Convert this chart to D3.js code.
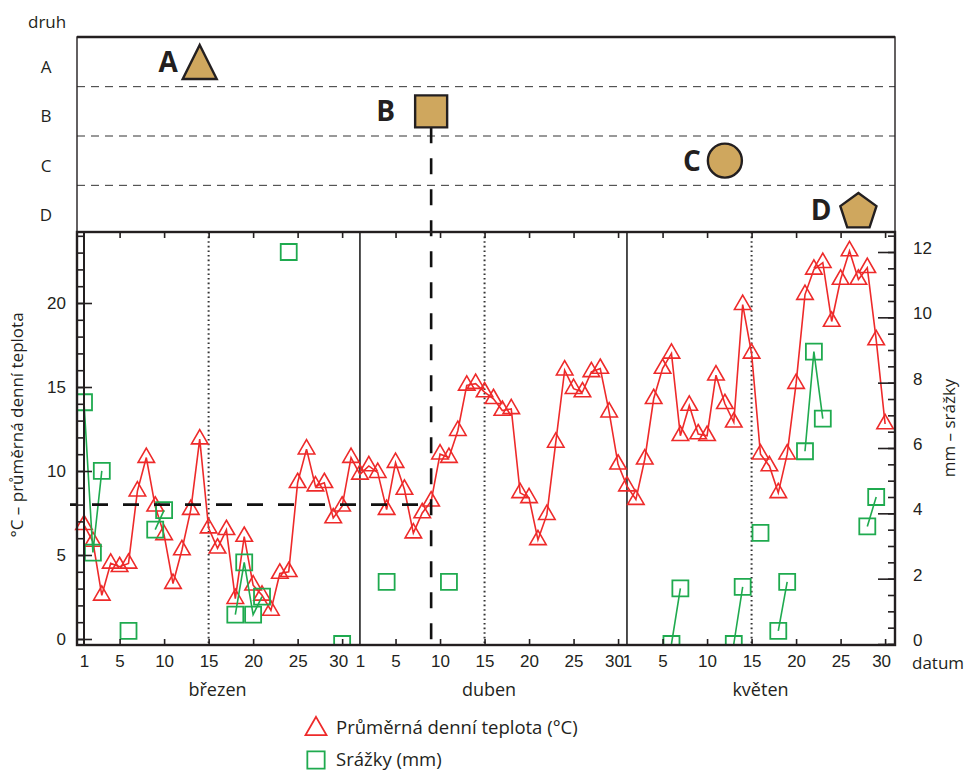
<!DOCTYPE html>
<html lang="cs">
<head>
<meta charset="utf-8">
<title>Teplota, srážky a druhy</title>
<script src="https://cdn.jsdelivr.net/npm/d3@7"></script>
<style>
  body { margin: 0; background: #fff; }
  svg { display: block; font-family: "Open Sans", sans-serif; }
  .tick text { font-size: 17px; fill: #231f20; }
</style>
</head>
<body>
<script>
// průměrná denní teplota (°C), 1. 3. – 30. 5.
const tempMarch = [6.8, 5.8, 2.6, 4.5, 4.3, 4.5, 8.8, 10.8, 7.9, 6.2, 3.3, 5.3, 7.7, 11.9, 6.6, 5.4,
  6.5, 2.4, 6.1, 3.2, 2.6, 1.7, 3.9, 4.0, 9.3, 11.3, 9.1, 9.3, 7.2, 7.9, 10.8];
const tempApril = [9.8, 10.3, 9.9, 7.7, 10.5, 8.9, 6.3, 7.5, 8.2, 11.0, 10.8, 12.4, 15.1, 15.2, 14.7,
  14.3, 13.6, 13.7, 8.7, 8.4, 5.9, 7.4, 11.7, 16.0, 14.9, 14.7, 15.9, 16.1, 13.5, 10.4];
const tempMay = [9.1, 8.3, 10.7, 14.3, 16.1, 17.0, 12.1, 13.9, 12.2, 12.1, 15.7, 14.0, 12.9, 19.9, 17.0,
  11.0, 10.3, 8.7, 11.0, 15.2, 20.5, 22.0, 22.4, 18.9, 21.4, 23.1, 21.4, 22.1, 17.8, 12.8];

// srážky (mm), jen dny se srážkami
const rainMonth = [3, 3, 3, 3, 3, 3, 3, 3, 3, 3, 3, 3, 4, 4, 5, 5, 5, 5, 5, 5, 5, 5, 5, 5, 5, 5];
const rainDay = [1, 2, 3, 6, 9, 10, 18, 19, 20, 21, 24, 30, 4, 11, 6, 7, 13, 14, 16, 18, 19, 21, 22, 23, 28, 29];
const rainMm = [7.4, 2.8, 5.3, 0.4, 3.5, 4.1, 0.9, 2.5, 0.9, 1.45, 12.0, 0, 1.9, 1.9,
  0, 1.7, 0, 1.75, 3.4, 0.4, 1.9, 5.9, 8.95, 6.9, 3.6, 4.5];

const months = ["březen", "duben", "květen"];
const monthNumbers = [3, 4, 5];
const monthLengths = [31, 30, 31];
const dayLabels = [1, 5, 10, 15, 20, 25, 30];

const species = ["A", "B", "C", "D"];
const speciesMonth = [3, 4, 5, 5];
const speciesDay = [14, 9, 12, 27];
const speciesShape = ["triangle", "square", "circle", "pentagon"];

const tempTicks = [0, 5, 10, 15, 20];
const rainTicks = [0, 2, 4, 6, 8, 10, 12];
const tempThreshold = 8;

const width = 966;
const height = 771;
const plot = { left: 77, right: 895, top: 232, bottom: 645 };
const panelTop = 37;
const red = "#ee2a2a";
const green = "#1faa4f";
const ink = "#231f20";
const tan = "#cfa75e";
const fs = 17;

const monthOffset = {};
monthNumbers.forEach((m, k) => { monthOffset[m] = d3.sum(monthLengths.slice(0, k)); });
const dayIndex = (month, day) => monthOffset[month] + day - 1;

const tempData = [];
[tempMarch, tempApril, tempMay].forEach((arr, k) => {
  arr.forEach((v, d) => tempData.push({ i: dayIndex(monthNumbers[k], d + 1), v }));
});

const rainPoints = rainMm.map((v, k) => ({ i: dayIndex(rainMonth[k], rainDay[k]), v }));
const totalDays = d3.sum(monthLengths);
const rainDaily = d3.range(totalDays).map(i => {
  const p = rainPoints.find(r => r.i === i);
  return { i, v: p ? p.v : null };
});

const svg = d3.select("body")
  .append("svg")
  .attr("width", width)
  .attr("height", height);

const x = d3.scaleLinear().domain([0, totalDays - 1]).range([84, 894]);
const yT = d3.scaleLinear().domain([0, 20]).range([639, 303]);
const yR = d3.scaleLinear().domain([0, 12]).range([644, 252]);
const row = d3.scalePoint().domain(species).range([62, 210]);

svg.append("clipPath").attr("id", "plotClip")
  .append("rect")
  .attr("x", plot.left).attr("y", plot.top)
  .attr("width", plot.right - plot.left).attr("height", plot.bottom - plot.top);

// ---- horní panel s druhy ----
svg.append("text")
  .attr("x", 28).attr("y", 28)
  .attr("font-size", fs).attr("fill", ink)
  .text("druh");

svg.selectAll(".row-label")
  .data(species)
  .enter()
  .append("text")
  .attr("class", "row-label")
  .attr("x", 46)
  .attr("y", d => row(d) + 11)
  .attr("text-anchor", "middle")
  .attr("font-size", fs).attr("fill", ink)
  .text(d => d);

svg.selectAll(".row-sep")
  .data(species.slice(1))
  .enter()
  .append("line")
  .attr("x1", plot.left).attr("x2", plot.right)
  .attr("y1", d => row(d) - row.step() / 2)
  .attr("y2", d => row(d) - row.step() / 2)
  .attr("stroke", "#333").attr("stroke-width", 1)
  .attr("stroke-dasharray", "8,6");

// ---- vodítka v grafu ----
const dotted = monthNumbers.map(m => dayIndex(m, 15));
svg.selectAll(".mid-line")
  .data(dotted)
  .enter()
  .append("line")
  .attr("x1", d => x(d)).attr("x2", d => x(d))
  .attr("y1", plot.top).attr("y2", plot.bottom)
  .attr("stroke", "#333").attr("stroke-width", 2)
  .attr("stroke-dasharray", "1.6,3");

svg.selectAll(".month-line")
  .data(monthNumbers.slice(1).map(m => dayIndex(m, 1)))
  .enter()
  .append("line")
  .attr("x1", d => x(d)).attr("x2", d => x(d))
  .attr("y1", plot.top).attr("y2", plot.bottom)
  .attr("stroke", "#222").attr("stroke-width", 1.6);

// ---- teplota ----
const tempLine = d3.line().x(d => x(d.i)).y(d => yT(d.v));
svg.append("path")
  .datum(tempData)
  .attr("d", tempLine)
  .attr("fill", "none")
  .attr("stroke", red)
  .attr("stroke-width", 1.6);

svg.selectAll(".temp-pt")
  .data(tempData)
  .enter()
  .append("path")
  .attr("class", "temp-pt")
  .attr("transform", d => `translate(${x(d.i)},${yT(d.v)})`)
  .attr("d", d3.symbol(d3.symbolTriangle, 118))
  .attr("fill", "none")
  .attr("stroke", red)
  .attr("stroke-width", 1.6);

// ---- srážky ----
const rainG = svg.append("g").attr("clip-path", "url(#plotClip)");
const rainLine = d3.line().defined(d => d.v !== null).x(d => x(d.i)).y(d => yR(d.v));
rainG.append("path")
  .datum(rainDaily)
  .attr("d", rainLine)
  .attr("fill", "none")
  .attr("stroke", green)
  .attr("stroke-width", 1.6);

rainG.selectAll(".rain-pt")
  .data(rainPoints)
  .enter()
  .append("path")
  .attr("transform", d => `translate(${x(d.i)},${yR(d.v)})`)
  .attr("d", d3.symbol(d3.symbolSquare, 256))
  .attr("fill", "none")
  .attr("stroke", green)
  .attr("stroke-width", 1.8);

// ---- druh B: přerušované čáry ----
const bIdx = species.indexOf("B");
const bX = x(dayIndex(speciesMonth[bIdx], speciesDay[bIdx]));
svg.append("line")
  .attr("x1", 70).attr("x2", bX)
  .attr("y1", yT(tempThreshold)).attr("y2", yT(tempThreshold))
  .attr("stroke", "#111").attr("stroke-width", 2.6)
  .attr("stroke-dasharray", "16,15").attr("stroke-dashoffset", 9);
svg.append("line")
  .attr("x1", bX).attr("x2", bX)
  .attr("y1", row("B") + 16).attr("y2", plot.bottom)
  .attr("stroke", "#111").attr("stroke-width", 2.6)
  .attr("stroke-dasharray", "16,15");

// ---- osy ----
function cleanAxis(g) {
  g.select(".domain").remove();
  g.selectAll(".tick line").attr("stroke", ink).attr("stroke-width", 1.6);
}

// levá osa – schody
svg.append("g").attr("transform", `translate(${plot.left},0)`)
  .call(d3.axisRight(yT).tickValues(d3.range(0, 25)).tickSize(7).tickFormat(""))
  .call(cleanAxis);
svg.append("g").attr("transform", `translate(${plot.left},0)`)
  .call(d3.axisRight(yT).tickValues(tempTicks).tickSize(15).tickFormat(""))
  .call(cleanAxis);
svg.append("line")
  .attr("x1", x(0)).attr("x2", x(0))
  .attr("y1", plot.top).attr("y2", plot.bottom)
  .attr("stroke", ink).attr("stroke-width", 2);
svg.append("g").attr("transform", `translate(${plot.left},0)`)
  .call(d3.axisLeft(yT).tickValues(tempTicks).tickSize(0).tickPadding(11))
  .call(cleanAxis);

// pravá osa
svg.append("g").attr("transform", `translate(${plot.right},0)`)
  .call(d3.axisLeft(yR).tickValues(d3.range(0, 12.6, 0.5)).tickSize(7).tickFormat(""))
  .call(cleanAxis);
svg.append("g").attr("transform", `translate(${plot.right},0)`)
  .call(d3.axisLeft(yR).tickValues(rainTicks).tickSize(17).tickFormat(""))
  .call(cleanAxis);
svg.append("g").attr("transform", `translate(${plot.right},-4)`)
  .call(d3.axisRight(yR).tickValues(rainTicks).tickSize(0).tickPadding(18))
  .call(cleanAxis);

// osa x
const tickDays = [];
const labelDays = [];
monthNumbers.forEach(m => {
  [5, 10, 15, 20, 25, 30].forEach(d => tickDays.push(dayIndex(m, d)));
  dayLabels.forEach(d => labelDays.push({ i: dayIndex(m, d), d }));
});
svg.append("g").attr("transform", `translate(0,${plot.bottom})`)
  .call(d3.axisTop(x).tickValues(tickDays).tickSize(6).tickFormat(""))
  .call(cleanAxis);
svg.append("g").attr("transform", `translate(0,${plot.top})`)
  .call(d3.axisBottom(x).tickValues(tickDays).tickSize(6).tickFormat(""))
  .call(cleanAxis);
const dayOf = new Map(labelDays.map(l => [l.i, l.d]));
svg.append("g").attr("transform", `translate(0,${plot.bottom})`)
  .call(d3.axisBottom(x).tickValues(labelDays.map(l => l.i)).tickSize(0).tickPadding(10)
    .tickFormat(i => dayOf.get(i)))
  .call(cleanAxis)
  .call(g => g.selectAll(".tick text").attr("dx", i => dayOf.get(i) === 30 ? -4 : 0));

svg.selectAll(".month-label")
  .data(months)
  .enter()
  .append("text")
  .attr("x", (d, k) => x(monthOffset[monthNumbers[k]] + (monthLengths[k] - 1) / 2))
  .attr("y", 696)
  .attr("text-anchor", "middle")
  .attr("font-size", 18).attr("fill", ink)
  .text(d => d);

svg.append("text")
  .attr("x", 912).attr("y", 669)
  .attr("font-size", fs).attr("fill", ink)
  .text("datum");

svg.append("text")
  .attr("transform", "translate(23,425) rotate(-90)")
  .attr("text-anchor", "middle")
  .attr("font-size", fs).attr("fill", ink)
  .text("°C – průměrná denní teplota");

svg.append("text")
  .attr("transform", "translate(955,428) rotate(-90)")
  .attr("text-anchor", "middle")
  .attr("font-size", fs).attr("fill", ink)
  .text("mm – srážky");

// rámečky
svg.append("rect")
  .attr("x", plot.left).attr("y", panelTop)
  .attr("width", plot.right - plot.left).attr("height", plot.top - panelTop)
  .attr("fill", "none").attr("stroke", ink).attr("stroke-width", 1.4);
svg.append("line")
  .attr("x1", plot.left).attr("x2", plot.right).attr("y1", panelTop).attr("y2", panelTop)
  .attr("stroke", ink).attr("stroke-width", 2.4);
svg.append("rect")
  .attr("x", plot.left).attr("y", plot.top)
  .attr("width", plot.right - plot.left).attr("height", plot.bottom - plot.top)
  .attr("fill", "none").attr("stroke", ink).attr("stroke-width", 2.4);

// ---- značky druhů ----
function shapePath(shape) {
  if (shape === "triangle") return "M0,-17L17,17L-17,17Z";
  if (shape === "square") return "M-16,-16H16V16H-16Z";
  if (shape === "circle") return d3.symbol(d3.symbolCircle, Math.PI * 17 * 17)();
  const pts = d3.range(5).map(k => {
    const a = -Math.PI / 2 + k * 2 * Math.PI / 5;
    return [19 * Math.cos(a), 19 * Math.sin(a) + 2];
  });
  return d3.line().curve(d3.curveLinearClosed)(pts);
}
const labelGap = { triangle: 22, square: 36, circle: 24, pentagon: 27 };

const marks = svg.selectAll(".species")
  .data(species)
  .enter()
  .append("g")
  .attr("transform", (d, k) => `translate(${x(dayIndex(speciesMonth[k], speciesDay[k]))},${row(d)})`);
marks.append("path")
  .attr("d", (d, k) => shapePath(speciesShape[k]))
  .attr("fill", tan)
  .attr("stroke", ink)
  .attr("stroke-width", 2.4)
  .attr("stroke-linejoin", "miter");
marks.append("text")
  .attr("x", (d, k) => -labelGap[speciesShape[k]])
  .attr("y", 10)
  .attr("text-anchor", "end")
  .attr("font-size", 28).attr("font-weight", 700).attr("fill", ink)
  .text(d => d);

// ---- legenda ----
const legend = svg.append("g").attr("transform", "translate(316,0)");
legend.append("path")
  .attr("transform", "translate(0,729)")
  .attr("d", d3.symbol(d3.symbolTriangle, 190))
  .attr("fill", "none").attr("stroke", red).attr("stroke-width", 1.8);
legend.append("text")
  .attr("x", 20).attr("y", 734)
  .attr("font-size", 18.5).attr("fill", ink)
  .text("Průměrná denní teplota (°C)");
legend.append("path")
  .attr("transform", "translate(0,760)")
  .attr("d", d3.symbol(d3.symbolSquare, 300))
  .attr("fill", "none").attr("stroke", green).attr("stroke-width", 1.8);
legend.append("text")
  .attr("x", 20).attr("y", 766)
  .attr("font-size", 18.5).attr("fill", ink)
  .text("Srážky (mm)");
</script>
</body>
</html>
